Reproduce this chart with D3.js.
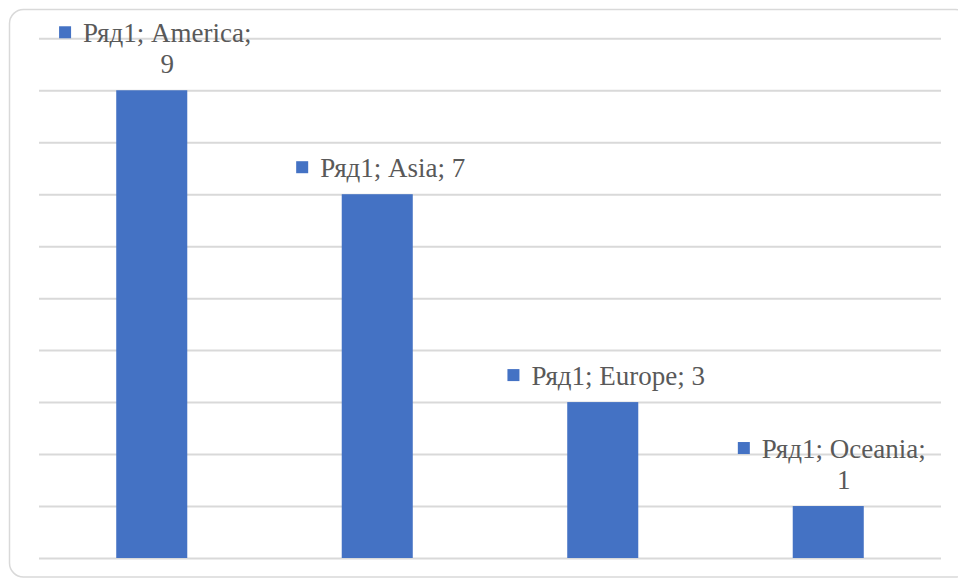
<!DOCTYPE html>
<html><head><meta charset="utf-8">
<script src="https://cdn.jsdelivr.net/npm/d3@7"></script>
<style>html,body{margin:0;padding:0;background:#fff;overflow:hidden}
text{font-family:"Liberation Serif","Times New Roman","DejaVu Serif",serif;}</style>
</head><body>
<svg id="c" width="958" height="582"></svg>
<script>
const seriesName = "Ряд1";
const categories = ["America", "Asia", "Europe", "Oceania"];
const values = [9, 7, 3, 1];
const yTicks = [0,1,2,3,4,5,6,7,8,9,10];

const svg = d3.select("#c");
const W = 958, H = 582;
const m = {left: 39, right: 17, top: 38.3, bottom: 24};
const x = d3.scaleBand().domain(categories).range([m.left, W - m.right]).paddingInner(0.685).paddingOuter(0.3425);
const y = d3.scaleLinear().domain([0, 10]).range([H - m.bottom, m.top]);

svg.append("rect").attr("x", 9.5).attr("y", 9.5).attr("width", 960).attr("height", 567.5)
  .attr("rx", 14).attr("fill", "#fff").attr("stroke", "#d9d9d9").attr("stroke-width", 1.5);

const grid = d3.axisLeft(y).tickValues(yTicks).tickSize(-(W - m.left - m.right)).tickFormat("");
const g = svg.append("g").attr("transform", `translate(${m.left},0)`).call(grid);
g.select(".domain").remove();
g.selectAll("line").attr("stroke", "#d9d9d9").attr("stroke-width", 2);

svg.append("g").selectAll("rect").data(categories).join("rect")
  .attr("x", d => x(d)).attr("width", x.bandwidth())
  .attr("y", (d, i) => y(values[i])).attr("height", (d, i) => y(0) - y(values[i]))
  .attr("fill", "#4472C4");

const fs = 27, lh = 31, maxW = 178, sq = 12, gap = 12;
categories.forEach((c, i) => {
  const full = `${seriesName}; ${c}; ${values[i]}`;
  const lg = svg.append("g");
  const t = lg.append("text").attr("font-size", fs).attr("fill", "#595959").text(full);
  let lines = [full];
  if (t.node().getComputedTextLength() > maxW) {
    lines = [`${seriesName}; ${c};`, `${values[i]}`];
  }
  const widths = lines.map(s => { t.text(s); return t.node().getComputedTextLength(); });
  t.remove();
  const textW = Math.max(...widths);
  const totalW = sq + gap + textW;
  const cx = x(c) + x.bandwidth() / 2 + 3.5;
  const left = cx - totalW / 2;
  const textCx = left + sq + gap + textW / 2;
  const baseLast = y(values[i]) - 17;
  const base0 = baseLast - (lines.length - 1) * lh;
  lines.forEach((s, k) => {
    lg.append("text").attr("font-size", fs).attr("fill", "#595959").attr("text-anchor", "middle")
      .attr("x", textCx).attr("y", base0 + k * lh).text(s);
  });
  lg.append("rect").attr("x", left).attr("y", base0 - 10 - sq / 2).attr("width", sq).attr("height", sq).attr("fill", "#4472C4");
});
</script>
</body></html>
